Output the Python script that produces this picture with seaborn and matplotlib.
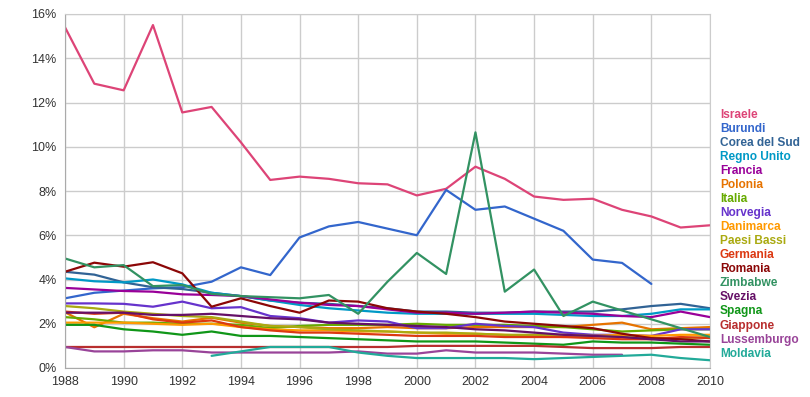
import numpy as np
import pandas as pd
import seaborn as sns
import matplotlib.pyplot as plt
from matplotlib.ticker import FuncFormatter

years = list(range(1988, 2011))
nan = np.nan

israele = [15.4, 12.85, 12.55, 15.5, 11.55, 11.8, 10.2, 8.5, 8.65, 8.55, 8.35, 8.3, 7.8, 8.1, 9.1, 8.55, 7.75, 7.6, 7.65, 7.15, 6.85, 6.35, 6.45]
burundi = [3.15, 3.4, 3.5, 3.6, 3.65, 3.9, 4.55, 4.2, 5.9, 6.4, 6.6, 6.3, 6.0, 8.05, 7.15, 7.3, 6.75, 6.2, 4.9, 4.75, 3.8, nan, nan]
corea = [4.35, 4.22, 3.87, 3.65, 3.57, 3.4, 3.25, 3.05, 2.95, 2.9, 2.8, 2.7, 2.55, 2.55, 2.5, 2.5, 2.55, 2.55, 2.55, 2.65, 2.8, 2.9, 2.7]
regno_unito = [4.05, 3.92, 3.87, 4.0, 3.78, 3.4, 3.25, 3.05, 2.85, 2.7, 2.6, 2.5, 2.45, 2.45, 2.45, 2.45, 2.45, 2.4, 2.35, 2.35, 2.45, 2.65, 2.65]
francia = [3.62, 3.55, 3.48, 3.45, 3.33, 3.3, 3.25, 3.1, 2.95, 2.85, 2.8, 2.65, 2.5, 2.5, 2.45, 2.5, 2.55, 2.5, 2.45, 2.35, 2.3, 2.55, 2.3]
polonia = [2.52, 1.84, 2.45, 2.25, 2.1, 2.27, 2.05, 1.9, 1.85, 1.8, 1.8, 1.85, 1.8, 1.8, 1.85, 1.85, 1.85, 1.85, 1.95, 2.05, 1.75, 1.8, 1.85]
italia = [2.3, 2.2, 2.05, 2.05, 2.0, 2.0, 1.95, 1.8, 1.9, 1.95, 1.95, 1.95, 2.0, 1.95, 1.95, 1.95, 1.9, 1.85, 1.75, 1.65, 1.7, 1.75, 1.75]
norvegia = [2.92, 2.92, 2.9, 2.77, 3.0, 2.7, 2.75, 2.35, 2.25, 2.05, 2.15, 2.1, 1.8, 1.8, 2.0, 1.9, 1.85, 1.6, 1.5, 1.5, 1.45, 1.75, 1.75]
danimarca = [2.05, 2.05, 2.05, 2.0, 1.95, 2.0, 1.85, 1.75, 1.7, 1.7, 1.65, 1.65, 1.6, 1.55, 1.55, 1.5, 1.45, 1.4, 1.45, 1.5, 1.45, 1.5, 1.5]
paesi_bassi = [2.8, 2.7, 2.55, 2.45, 2.35, 2.3, 2.1, 1.9, 1.85, 1.75, 1.7, 1.65, 1.6, 1.6, 1.55, 1.5, 1.5, 1.5, 1.45, 1.4, 1.35, 1.35, 1.4]
germania = [2.55, 2.45, 2.5, 2.2, 2.05, 2.15, 1.85, 1.7, 1.6, 1.6, 1.55, 1.5, 1.45, 1.45, 1.45, 1.4, 1.4, 1.4, 1.35, 1.3, 1.3, 1.4, 1.35]
romania = [4.35, 4.76, 4.58, 4.78, 4.28, 2.77, 3.15, 2.8, 2.5, 3.05, 3.0, 2.7, 2.55, 2.45, 2.3, 2.1, 2.0, 1.9, 1.8, 1.55, 1.35, 1.3, 1.2]
zimbabwe = [4.95, 4.55, 4.65, 3.7, 3.75, 3.35, 3.25, 3.2, 3.15, 3.3, 2.45, 3.9, 5.2, 4.25, 10.65, 3.45, 4.45, 2.35, 3.0, 2.6, 2.2, 1.8, 1.4]
svezia = [2.5, 2.5, 2.5, 2.4, 2.4, 2.45, 2.35, 2.25, 2.2, 2.05, 2.0, 1.95, 1.9, 1.85, 1.75, 1.7, 1.6, 1.5, 1.45, 1.4, 1.3, 1.2, 1.2]
spagna = [1.95, 1.95, 1.75, 1.65, 1.5, 1.65, 1.45, 1.45, 1.4, 1.35, 1.3, 1.25, 1.2, 1.2, 1.2, 1.15, 1.1, 1.05, 1.2, 1.15, 1.15, 1.1, 1.05]
giappone = [0.95, 0.95, 0.95, 0.95, 0.95, 0.95, 0.95, 0.95, 0.95, 0.95, 0.95, 0.95, 1.0, 1.0, 1.0, 1.0, 1.0, 0.95, 0.9, 0.9, 0.9, 0.95, 0.95]
lussemburgo = [0.95, 0.75, 0.75, 0.8, 0.8, 0.7, 0.7, 0.7, 0.7, 0.7, 0.75, 0.65, 0.65, 0.8, 0.7, 0.7, 0.7, 0.65, 0.6, 0.6, nan, nan, nan]
moldavia = [nan, nan, nan, nan, nan, 0.55, 0.75, 0.95, 0.95, 0.95, 0.7, 0.55, 0.45, 0.45, 0.45, 0.45, 0.4, 0.45, 0.5, 0.55, 0.6, 0.45, 0.35]

series = {
    'Israele': israele, 'Burundi': burundi, 'Corea del Sud': corea,
    'Regno Unito': regno_unito, 'Francia': francia, 'Polonia': polonia,
    'Italia': italia, 'Norvegia': norvegia, 'Danimarca': danimarca,
    'Paesi Bassi': paesi_bassi, 'Germania': germania, 'Romania': romania,
    'Zimbabwe': zimbabwe, 'Svezia': svezia, 'Spagna': spagna,
    'Giappone': giappone, 'Lussemburgo': lussemburgo, 'Moldavia': moldavia,
}
colors = ['#dd4477', '#3366cc', '#316395', '#0099c6', '#990099', '#e67300',
          '#66aa00', '#6633cc', '#ff9900', '#aaaa11', '#dc3912', '#8b0707',
          '#329262', '#651067', '#109618', '#b82e2e', '#994499', '#22aa99']

df = pd.DataFrame(series, index=years).reset_index(names='anno')
df = df.melt(id_vars='anno', var_name='paese', value_name='valore').dropna()

sns.set_style('white')
plt.rcParams['font.family'] = ['Liberation Sans', 'DejaVu Sans']

fig = plt.figure(figsize=(8.1, 3.97), dpi=100)
ax = fig.add_axes([65 / 810, 29 / 397, 645 / 810, 354 / 397])
sns.lineplot(data=df, x='anno', y='valore', hue='paese', hue_order=list(series),
             palette=colors, linewidth=1.6, ax=ax)

ax.set_xlim(1988, 2010)
ax.set_ylim(0, 16)
ax.set_xticks(range(1988, 2011, 2))
ax.set_yticks(range(0, 17, 2))
ax.yaxis.set_major_formatter(FuncFormatter(lambda v, p: f'{int(v)}%'))
ax.grid(True, color='#cccccc', linewidth=1)
ax.set_axisbelow(True)
for s in ax.spines.values():
    s.set_color('#cccccc')
ax.spines['left'].set_color('#aaaaaa')
ax.spines['bottom'].set_color('#aaaaaa')
ax.tick_params(length=0, labelsize=9, colors='#333333', pad=6)
ax.set_xlabel('')
ax.set_ylabel('')

leg = ax.legend(handlelength=0, handletextpad=0, labelcolor='linecolor', frameon=False,
                loc='upper left', bbox_to_anchor=(1.008, 0.745), fontsize=8.6,
                labelspacing=0.17, borderaxespad=0)
for h in leg.legend_handles:
    h.set_visible(False)
for t in leg.get_texts():
    t.set_fontweight('bold')

fig.savefig('out.png', dpi=100)
